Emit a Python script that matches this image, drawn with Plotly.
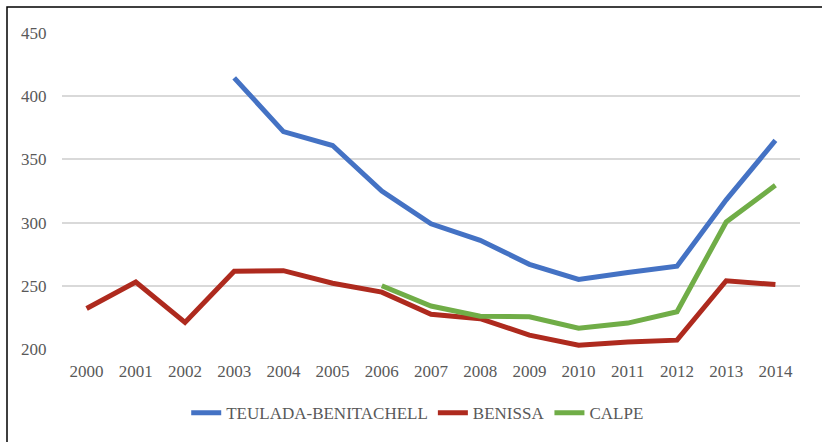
import plotly.graph_objects as go

years = [str(y) for y in range(2000, 2015)]
teulada = [None, None, None, 414.5, 372, 361, 325, 299, 286, 267, 255, 260.5, 265.5, 318, 365]
benissa = [232, 253, 221, 261.5, 262, 252, 245, 227.5, 224, 211, 203, 205.5, 207, 254, 251]
calpe = [None, None, None, None, None, None, 250, 234, 226, 225.5, 216.5, 220.5, 229.5, 300.5, 329.5]

series = [
    ("TEULADA-BENITACHELL", teulada, "#4472C4"),
    ("BENISSA", benissa, "#AE2A1E"),
    ("CALPE", calpe, "#70AD47"),
]

fig = go.Figure()
for name, vals, col in series:
    fig.add_trace(go.Scatter(x=years, y=vals, name=name, mode="lines",
                             line=dict(color=col, width=5), connectgaps=False))

font = dict(family="Liberation Serif", size=17, color="#595959")

fig.update_layout(
    width=822, height=442,
    margin=dict(l=62, r=22, t=33, b=92),
    paper_bgcolor="white", plot_bgcolor="white",
    font=font,
    showlegend=True,
    legend=dict(orientation="h", x=0.482, xanchor="center", y=-0.199, yanchor="middle",
                font=font, tracegroupgap=0, entrywidthmode="pixels"),
    xaxis=dict(type="category", range=[-0.5, 14.5], showgrid=False, zeroline=False,
               showline=False, ticks="outside", ticklen=7, tickcolor="rgba(0,0,0,0)",
               tickfont=font),
    yaxis=dict(range=[200, 450], tickvals=[200, 250, 300, 350, 400, 450],
               showgrid=True, gridcolor="#D9D9D9", gridwidth=1.5, zeroline=False,
               showline=False, ticks="outside", ticklen=11, tickcolor="rgba(0,0,0,0)",
               tickfont=font),
    shapes=[dict(type="rect", xref="paper", yref="paper",
                 x0=(7 - 62) / 738, x1=(823 - 62) / 738,
                 y0=(350 - 446) / 317, y1=(350 - 7) / 317,
                 line=dict(color="black", width=1.5), fillcolor="rgba(0,0,0,0)",
                 layer="below")],
)

fig.write_html("out.html", config={"displayModeBar": False},
               post_script="document.body.style.margin='0';document.body.style.overflow='hidden';")
